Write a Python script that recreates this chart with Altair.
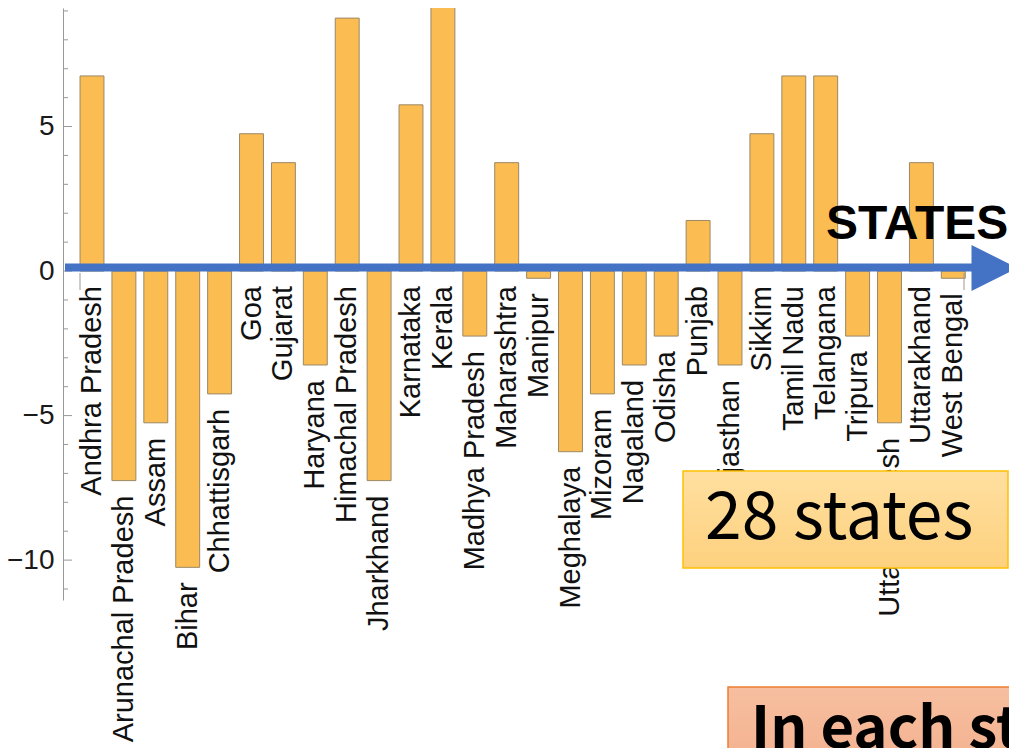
import altair as alt
import pandas as pd

states = ["Andhra Pradesh", "Arunachal Pradesh", "Assam", "Bihar", "Chhattisgarh",
          "Goa", "Gujarat", "Haryana", "Himachal Pradesh", "Jharkhand", "Karnataka",
          "Kerala", "Madhya Pradesh", "Maharashtra", "Manipur", "Meghalaya", "Mizoram",
          "Nagaland", "Odisha", "Punjab", "Rajasthan", "Sikkim", "Tamil Nadu",
          "Telangana", "Tripura", "Uttar Pradesh", "Uttarakhand", "West Bengal"]
values = [6.75, -7.25, -5.25, -10.25, -4.25, 4.75, 3.75, -3.25, 8.75, -7.25, 5.75,
          9.75, -2.25, 3.75, -0.25, -6.25, -4.25, -3.25, -2.25, 1.75, -3.25, 4.75,
          6.75, 6.75, -2.25, -5.25, 3.75, -0.25]
major_ticks = [-10, -5, 0, 5]
minor_ticks = [t for t in range(-11, 10) if t not in major_ticks]

df = pd.DataFrame({"state": states, "value": values})
df["anchor"] = df["value"].clip(upper=0)

W, H = 946, 592
yscale = alt.Scale(domain=[-11.38, 9.10], nice=False, zero=False)
xscale = alt.Scale(domain=states, range=[13.05, 13.05 + 28 * 31.9],
                   paddingInner=0.25, paddingOuter=0.125)

yaxis = alt.Axis(values=major_ticks, ticks=False, grid=False, domainColor="#999999",
                 labelFont="Liberation Sans", labelFontSize=28, labelColor="#1a1a1a",
                 labelPadding=9, title=None)

base = alt.Chart(df)

bars = base.mark_bar(fill="#FBBC52", stroke="#9A8866", strokeWidth=1, clip=True).encode(
    x=alt.X("state:N", scale=xscale, axis=None, sort=states),
    y=alt.Y("value:Q", scale=yscale, axis=yaxis),
    y2=alt.datum(0),
)

labels = base.mark_text(angle=270, align="right", baseline="middle", dx=-15,
                        font="Liberation Sans", fontSize=29, color="#111111").encode(
    x=alt.X("state:N", scale=xscale, sort=states, axis=None),
    y=alt.Y("anchor:Q", scale=yscale, axis=yaxis),
    text="state:N",
)

minor = alt.Chart(pd.DataFrame({"t": minor_ticks})).mark_rule(color="#999999", strokeWidth=1).encode(
    y=alt.Y("t:Q", scale=yscale, axis=yaxis),
    x=alt.value(0), x2=alt.value(5),
)
major = alt.Chart(pd.DataFrame({"t": major_ticks})).mark_rule(color="#999999", strokeWidth=1).encode(
    y=alt.Y("t:Q", scale=yscale, axis=yaxis),
    x=alt.value(0), x2=alt.value(9),
)

edge_l = alt.Chart(pd.DataFrame({"a": [0]})).mark_rule(color="#999999", strokeWidth=1).encode(
    x=alt.value(17), y=alt.value(265), y2=alt.value(282))
edge_r = alt.Chart(pd.DataFrame({"a": [0]})).mark_rule(color="#999999", strokeWidth=1).encode(
    x=alt.value(901), y=alt.value(265), y2=alt.value(282))

shaft = alt.Chart(pd.DataFrame({"a": [0]})).mark_rule(color="#4472C4", strokeWidth=8).encode(
    x=alt.value(2), x2=alt.value(910), y=alt.value(259.5),
)
head = alt.Chart(pd.DataFrame({"a": [0]})).mark_point(
    shape="M-1,-1L1,0L-1,1Z", filled=True, fill="#4472C4", opacity=1, size=2116, strokeWidth=0
).encode(x=alt.value(931.5), y=alt.value(260))

states_txt = alt.Chart(pd.DataFrame({"t": ["STATES"]})).mark_text(
    font="Liberation Sans", fontWeight="bold", fontSize=48, color="#000000",
    align="left", baseline="alphabetic").encode(
    x=alt.value(763), y=alt.value(231), text="t:N")

grad1 = alt.LinearGradient(gradient="linear", x1=0, x2=0, y1=0, y2=1,
                           stops=[alt.GradientStop(color="#FFDFA0", offset=0),
                                  alt.GradientStop(color="#FDD17E", offset=1)])
box1 = alt.Chart(pd.DataFrame({"a": [0]})).mark_rect(
    fill=grad1, stroke="#FFC000", strokeWidth=1.5).encode(
    x=alt.value(620), x2=alt.value(945), y=alt.value(463), y2=alt.value(560))
txt1 = alt.Chart(pd.DataFrame({"t": ["28 states"]})).mark_text(
    font="Noto Sans CJK JP", fontSize=66, color="#000000", align="left",
    baseline="alphabetic").encode(x=alt.value(642), y=alt.value(531), text="t:N")

grad2 = alt.LinearGradient(gradient="linear", x1=0, x2=0, y1=0, y2=1,
                           stops=[alt.GradientStop(color="#F6BFA0", offset=0),
                                  alt.GradientStop(color="#F3AA86", offset=1)])
box2 = alt.Chart(pd.DataFrame({"a": [0]})).mark_rect(
    fill=grad2, stroke="#ED7D31", strokeWidth=1.5).encode(
    x=alt.value(665), x2=alt.value(1000), y=alt.value(679), y2=alt.value(800))
txt2 = alt.Chart(pd.DataFrame({"t": ["In each state"]})).mark_text(
    font="Noto Sans CJK JP", fontWeight="bold", fontSize=58, color="#000000", align="left",
    baseline="alphabetic").encode(x=alt.value(688), y=alt.value(740), text="t:N")

chart = alt.layer(bars, minor, major, edge_l, edge_r, labels, shaft, head, states_txt,
                  box1, txt1, box2, txt2).properties(
    width=W, height=H,
    autosize=alt.AutoSizeParams(type="none"),
    padding={"left": 55, "top": 0, "right": 0, "bottom": 148},
    view=alt.ViewBackground(stroke="transparent", strokeWidth=0),
).configure_view(stroke="transparent", strokeWidth=0).configure_axis(grid=False).configure(background="white")

chart.save("out.html", embed_options={"renderer": "svg", "actions": False})
